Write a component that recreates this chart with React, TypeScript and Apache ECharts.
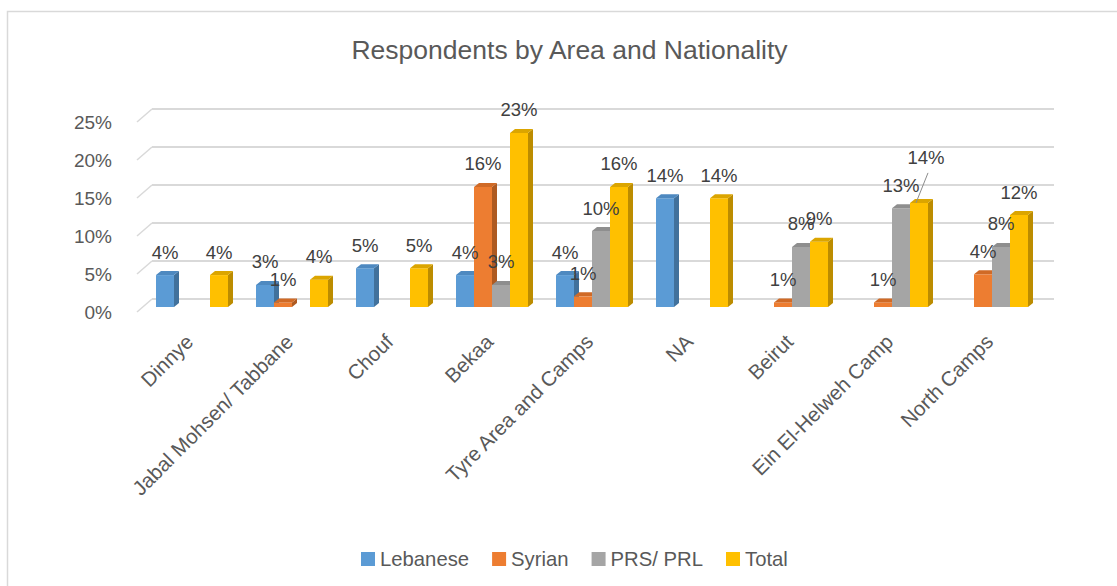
import React, { useEffect, useRef } from "react";
import * as echarts from "echarts";

const categories = [
  "Dinnye",
  "Jabal Mohsen/ Tabbane",
  "Chouf",
  "Bekaa",
  "Tyre Area and Camps",
  "NA",
  "Beirut",
  "Ein El-Helweh Camp",
  "North Camps",
];
const seriesNames = ["Lebanese", "Syrian", "PRS/ PRL", "Total"];
const lebanese = [4.2, 2.9, 5.1, 4.2, 4.2, 14.3, null, null, null];
const syrian = [null, 0.6, null, 15.8, 1.4, null, 0.6, 0.6, 4.3];
const prsPrl = [null, null, null, 2.9, 10.0, null, 7.9, 13.0, 7.9];
const total = [4.2, 3.6, 5.1, 22.9, 15.8, 14.3, 8.6, 13.7, 12.1];
const yTicks = [0, 5, 10, 15, 20, 25];

const seriesValues = [lebanese, syrian, prsPrl, total];
const frontColors = ["#5B9BD5", "#ED7D31", "#A5A5A5", "#FFC000"];
const sideColors = ["#41719C", "#AE5A21", "#7C7C7C", "#BC8C00"];
const topColors = ["#4E89C0", "#D06A26", "#8E8E8E", "#DBA500"];

// label placement overrides: "seriesIndex-categoryIndex" -> [dx, dy]
const labelShift: Record<string, [number, number]> = { "3-7": [7, -22] };

const FONT = "'Liberation Sans', Arial, sans-serif";
const BAR_W = 18;
const DEPTH_X = 5;
const DEPTH_Y = -4;

function makeBarRender(s: number) {
  return (params: any, api: any) => {
    const cat = api.value(0);
    const v = api.value(1);
    const p = api.coord([cat, v]);
    const p0 = api.coord([cat, 0]);
    const x = p[0] - 2 * BAR_W + BAR_W * s;
    const top = p[1] - 5;
    const bot = p0[1] - 5;
    const w = BAR_W;
    const key = s + "-" + cat;
    const sh = labelShift[key] || [0, 0];
    const lx = x + w / 2 + sh[0];
    const ly = top - 23 + sh[1];
    const children: any[] = [
      {
        type: "rect",
        shape: { x, y: top, width: w, height: bot - top },
        style: { fill: frontColors[s] },
      },
      {
        type: "polygon",
        shape: {
          points: [
            [x + w, top],
            [x + w + DEPTH_X, top + DEPTH_Y],
            [x + w + DEPTH_X, bot + DEPTH_Y],
            [x + w, bot],
          ],
        },
        style: { fill: sideColors[s] },
      },
      {
        type: "polygon",
        shape: {
          points: [
            [x, top],
            [x + DEPTH_X, top + DEPTH_Y],
            [x + w + DEPTH_X, top + DEPTH_Y],
            [x + w, top],
          ],
        },
        style: { fill: topColors[s] },
      },
      {
        type: "text",
        z2: 100,
        style: {
          text: Math.round(v) + "%",
          x: lx,
          y: ly,
          align: "center",
          verticalAlign: "middle",
          textAlign: "center",
          textVerticalAlign: "middle",
          fontSize: 18.5,
          fontFamily: FONT,
          fill: "#404040",
        },
      },
    ];
    if (sh[0] !== 0 || sh[1] !== 0) {
      children.push({
        type: "line",
        z2: 100,
        shape: { x1: lx + 2, y1: ly + 15, x2: x + w / 2 - 3, y2: top },
        style: { stroke: "#8c8c8c", lineWidth: 1 },
      });
    }
    return { type: "group", children };
  };
}

function gridRender(params: any, api: any) {
  const cs = params.coordSys;
  const v = api.value(1);
  const y = api.coord([0, v])[1];
  const bx = cs.x + 10;
  const by = y - 13;
  return {
    type: "group",
    children: [
      {
        type: "line",
        shape: { x1: cs.x - 5, y1: y, x2: bx, y2: by },
        style: { stroke: "#d9d9d9", lineWidth: 1.5 },
      },
      {
        type: "line",
        shape: { x1: bx, y1: by, x2: cs.x + cs.width + 12, y2: by },
        style: { stroke: "#d9d9d9", lineWidth: 1.8 },
      },
    ],
  };
}

export default function App() {
  const ref = useRef<HTMLDivElement>(null);
  useEffect(() => {
    if (!ref.current) return;
    const chart = echarts.init(ref.current, undefined, { renderer: "svg" });
    const barSeries = seriesValues.map((vals, s) => ({
      type: "custom",
      name: seriesNames[s],
      renderItem: makeBarRender(s),
      itemStyle: { color: frontColors[s] },
      data: vals
        .map((v, i) => (v === null ? null : [i, v]))
        .filter((d) => d !== null),
      z: 3,
    }));
    chart.setOption({
      animation: false,
      textStyle: { fontFamily: FONT },
      graphic: [
        {
          type: "rect",
          shape: { x: 7.5, y: 11.5, width: 1300, height: 800 },
          style: { fill: "none", stroke: "#d9d9d9", lineWidth: 1.5 },
        },
        {
          type: "text",
          x: 569.5,
          y: 50,
          style: {
            text: "Respondents by Area and Nationality",
            align: "center",
            verticalAlign: "middle",
            textAlign: "center",
            textVerticalAlign: "middle",
            fontSize: 26.5,
            fontFamily: FONT,
            fill: "#595959",
          },
        },
      ],
      grid: { left: 142, top: 122, width: 900, height: 190, containLabel: false },
      xAxis: {
        type: "category",
        data: categories,
        axisLine: { show: false },
        axisTick: { show: false },
        splitLine: { show: false },
        axisLabel: {
          interval: 0,
          rotate: 45,
          margin: 23,
          padding: [0, 4, 0, 0],
          fontSize: 20.5,
          color: "#595959",
          fontFamily: FONT,
        },
      },
      yAxis: {
        type: "value",
        min: 0,
        max: 25,
        interval: 5,
        axisLine: { show: false },
        axisTick: { show: false },
        splitLine: { show: false },
        axisLabel: {
          formatter: "{value}%",
          margin: 30,
          fontSize: 19,
          color: "#595959",
          fontFamily: FONT,
        },
      },
      legend: {
        data: seriesNames,
        left: 356,
        top: 544,
        icon: "rect",
        itemWidth: 14,
        itemHeight: 14,
        itemGap: 23,
        textStyle: { fontSize: 20.3, color: "#595959", fontFamily: FONT },
      },
      series: [
        {
          type: "custom",
          name: "grid",
          renderItem: gridRender,
          data: yTicks.map((v) => [0, v]),
          z: 1,
          silent: true,
        },
        ...barSeries,
      ],
    });
    return () => chart.dispose();
  }, []);
  return (
    <div
      ref={ref}
      style={{ position: "fixed", left: 0, top: 0, width: 1117, height: 586, background: "#fff" }}
    />
  );
}
